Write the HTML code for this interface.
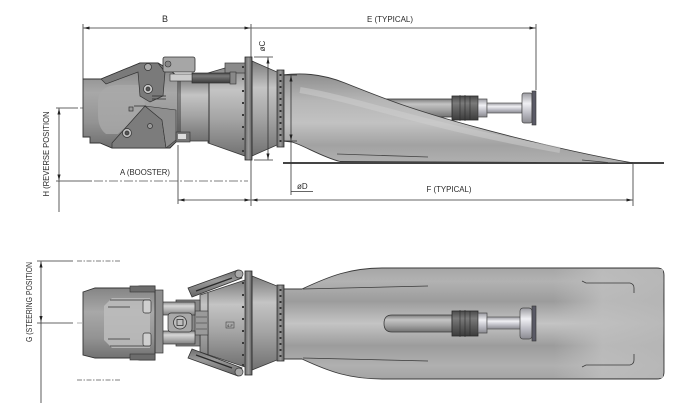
<!DOCTYPE html>
<html><head><meta charset="utf-8"><style>
html,body{margin:0;padding:0;background:#fff;}
svg{display:block;}
text{font-family:"Liberation Sans",sans-serif;fill:#2a2a2a;}
</style></head><body>
<svg width="684" height="418" viewBox="0 0 684 418" xmlns="http://www.w3.org/2000/svg">
<defs>
<marker id="ar" viewBox="0 0 10 6" refX="10" refY="3" markerWidth="6" markerHeight="3.6" orient="auto-start-reverse" markerUnits="userSpaceOnUse"><path d="M0,0.4 L10,3 L0,5.6 z" fill="#222"/></marker>
<linearGradient id="cyl" x1="0" y1="0" x2="0" y2="1">
 <stop offset="0" stop-color="#7c7c7c"/><stop offset="0.28" stop-color="#c4c4c4"/><stop offset="0.6" stop-color="#a4a4a4"/><stop offset="1" stop-color="#727272"/>
</linearGradient>
<linearGradient id="cylL" x1="0" y1="0" x2="0" y2="1">
 <stop offset="0" stop-color="#8a8a8a"/><stop offset="0.3" stop-color="#d6d6d6"/><stop offset="0.6" stop-color="#b4b4b4"/><stop offset="1" stop-color="#808080"/>
</linearGradient>
<linearGradient id="armG" x1="0" y1="0" x2="0" y2="1">
 <stop offset="0" stop-color="#6e6e6e"/><stop offset="0.4" stop-color="#9a9a9a"/><stop offset="1" stop-color="#666"/>
</linearGradient>
<linearGradient id="shaft" x1="0" y1="0" x2="0" y2="1">
 <stop offset="0" stop-color="#9a9aa0"/><stop offset="0.35" stop-color="#f0f0f4"/><stop offset="0.7" stop-color="#b8b8c0"/><stop offset="1" stop-color="#8a8a90"/>
</linearGradient>
<linearGradient id="dark" x1="0" y1="0" x2="0" y2="1">
 <stop offset="0" stop-color="#4a4a4a"/><stop offset="0.3" stop-color="#7a7a7a"/><stop offset="0.6" stop-color="#5e5e5e"/><stop offset="1" stop-color="#3c3c3c"/>
</linearGradient>
<linearGradient id="flangeG" x1="0" y1="0" x2="1" y2="0">
 <stop offset="0" stop-color="#6a6a6a"/><stop offset="0.5" stop-color="#9c9c9c"/><stop offset="1" stop-color="#5a5a5a"/>
</linearGradient>
<linearGradient id="hullT" x1="0" y1="0" x2="0" y2="1">
 <stop offset="0" stop-color="#8e8e8e"/><stop offset="0.3" stop-color="#b6b6b6"/><stop offset="0.55" stop-color="#c2c2c2"/><stop offset="0.8" stop-color="#a2a2a2"/><stop offset="1" stop-color="#b0b0b0"/>
</linearGradient>
<linearGradient id="plate" x1="0" y1="0" x2="0" y2="1">
 <stop offset="0" stop-color="#a6a6a6"/><stop offset="0.12" stop-color="#b2b2b2"/><stop offset="0.3" stop-color="#9c9c9c"/><stop offset="0.5" stop-color="#c4c4c4"/><stop offset="0.7" stop-color="#9c9c9c"/><stop offset="0.88" stop-color="#b0b0b0"/><stop offset="1" stop-color="#a4a4a4"/>
</linearGradient>
<linearGradient id="plateR" x1="0" y1="0" x2="1" y2="0">
 <stop offset="0" stop-color="#bbbbbb" stop-opacity="0"/><stop offset="0.55" stop-color="#bdbdbd" stop-opacity="0"/><stop offset="0.75" stop-color="#bebebe" stop-opacity="0.85"/><stop offset="1" stop-color="#b8b8b8" stop-opacity="0.9"/>
</linearGradient>
<linearGradient id="boost" x1="0" y1="0" x2="0" y2="1">
 <stop offset="0" stop-color="#828282"/><stop offset="0.35" stop-color="#a8a8a8"/><stop offset="0.7" stop-color="#939393"/><stop offset="1" stop-color="#6e6e6e"/>
</linearGradient>
</defs>

<!-- ================= TOP VIEW ================= -->
<g stroke="#333" stroke-width="0.8" fill="none">
 <line x1="83" y1="24" x2="83" y2="79"/>
 <line x1="251" y1="24" x2="251" y2="206"/>
 <line x1="536" y1="24" x2="536" y2="90"/>
 <line x1="83.5" y1="28" x2="250.5" y2="28" marker-start="url(#ar)" marker-end="url(#ar)"/>
 <line x1="251.5" y1="28" x2="535.5" y2="28" marker-end="url(#ar)"/>
 <line x1="178" y1="145" x2="178" y2="204"/>
 <line x1="633" y1="163" x2="633" y2="206"/>
 <line x1="178.5" y1="200" x2="250.5" y2="200" marker-start="url(#ar)" marker-end="url(#ar)"/>
 <line x1="251.5" y1="200" x2="632.5" y2="200" marker-start="url(#ar)" marker-end="url(#ar)"/>
 <line x1="59" y1="108.5" x2="59" y2="180.5" marker-start="url(#ar)" marker-end="url(#ar)"/>
 <line x1="59" y1="181" x2="59" y2="212"/>
 <line x1="56" y1="108" x2="78" y2="108"/>
 <line x1="56" y1="181" x2="92" y2="181"/>
 <line x1="80" y1="108" x2="302" y2="108" stroke-dasharray="9,2,2,2" stroke="#555" stroke-width="0.7"/>
 <line x1="94" y1="181" x2="248" y2="181" stroke-dasharray="9,2,2,2" stroke="#555" stroke-width="0.7"/>
</g>

<rect x="383" y="99" width="70" height="18" fill="url(#cyl)" stroke="#3a3a3a" stroke-width="0.8"/>
<rect x="452" y="96" width="26" height="24" fill="url(#dark)" stroke="#2a2a2a" stroke-width="0.8"/>
<g stroke="#2a2a2a" stroke-width="0.6"><line x1="460" y1="95" x2="460" y2="121"/><line x1="465" y1="95" x2="465" y2="121"/><line x1="470" y1="96" x2="470" y2="120"/></g>
<rect x="478" y="99" width="9" height="18" fill="url(#shaft)" stroke="#444" stroke-width="0.7"/>
<rect x="487" y="103" width="35" height="10" fill="url(#shaft)" stroke="#555" stroke-width="0.7"/>
<rect x="522" y="93" width="10" height="30" rx="2" fill="url(#shaft)" stroke="#444" stroke-width="0.7"/>
<rect x="532" y="91" width="4" height="34" fill="#5a5a66" stroke="#333" stroke-width="0.6"/>

<line x1="283" y1="163" x2="664" y2="163" stroke="#444" stroke-width="2"/>

<path d="M282,75 C300,73 320,73 345,83 C365,91 380,97 400,104 C460,125 560,150 633,163 L340,161.5 C322,157 305,146 292,142 L282,141 Z" fill="url(#hullT)" stroke="#3a3a3a" stroke-width="0.9"/>
<path d="M337,154 C370,155 400,156 428,157" stroke="#444" stroke-width="0.8" fill="none"/>
<path d="M582,160 L608,162.5" stroke="#444" stroke-width="0.8" fill="none"/>
<path d="M300,90 C360,100 420,125 560,150" stroke="#d0d0d0" stroke-width="6" fill="none" opacity="0.5"/>

<rect x="277" y="70" width="7" height="77" fill="url(#flangeG)" stroke="#2e2e2e" stroke-width="0.8"/>
<g fill="#333">
 <rect x="279.5" y="74" width="2" height="2"/><rect x="279.5" y="80" width="2" height="2"/><rect x="279.5" y="86" width="2" height="2"/><rect x="279.5" y="92" width="2" height="2"/><rect x="279.5" y="98" width="2" height="2"/><rect x="279.5" y="104" width="2" height="2"/><rect x="279.5" y="110" width="2" height="2"/><rect x="279.5" y="116" width="2" height="2"/><rect x="279.5" y="122" width="2" height="2"/><rect x="279.5" y="128" width="2" height="2"/><rect x="279.5" y="134" width="2" height="2"/><rect x="279.5" y="140" width="2" height="2"/>
</g>
<path d="M252,61 L277,72 L277,145 L252,156 Z" fill="url(#cyl)" stroke="#3a3a3a" stroke-width="0.8"/>
<g stroke="#333" stroke-width="0.8" fill="none">
 <line x1="254" y1="57" x2="273" y2="57"/>
 <line x1="254" y1="160" x2="273" y2="160"/>
 <line x1="268" y1="57.5" x2="268" y2="159.5" marker-start="url(#ar)" marker-end="url(#ar)"/>
 <line x1="284" y1="75" x2="297" y2="75"/>
 <line x1="284" y1="141" x2="297" y2="141"/>
 <line x1="291" y1="75.5" x2="291" y2="140.5" marker-start="url(#ar)" marker-end="url(#ar)"/>
 <line x1="291" y1="141" x2="291" y2="195"/>
 <line x1="291" y1="191.5" x2="313" y2="191.5"/>
</g>
<rect x="245" y="57" width="7" height="103" fill="url(#flangeG)" stroke="#2a2a2a" stroke-width="0.8"/>

<path d="M208,73 L225,68 L245,64 L245,156 L208,143 Z" fill="url(#cyl)" stroke="#3a3a3a" stroke-width="0.8"/>
<rect x="225" y="63" width="20" height="10" fill="#8a8a8a" stroke="#3a3a3a" stroke-width="0.7"/>
<g fill="#3a3a3a">
 <rect x="242" y="66" width="2" height="2"/><rect x="242" y="78" width="2" height="2"/><rect x="242" y="90" width="2" height="2"/><rect x="242" y="102" width="2" height="2"/><rect x="242" y="114" width="2" height="2"/><rect x="242" y="126" width="2" height="2"/><rect x="242" y="138" width="2" height="2"/><rect x="242" y="150" width="2" height="2"/>
</g>
<rect x="175" y="77" width="34" height="64" fill="url(#cyl)" stroke="#3a3a3a" stroke-width="0.8"/>
<line x1="180" y1="77" x2="180" y2="141" stroke="#333" stroke-width="0.9"/>
<line x1="209" y1="73" x2="209" y2="143" stroke="#333" stroke-width="1"/>

<path d="M83,79 L101,79 L140,63 L158,63 L170,70 L178,77 L178,140 L170,148 L112,148 L100,143 L90,143 L90,137 L83,137 Z" fill="url(#boost)" stroke="#333" stroke-width="0.9"/>
<path d="M98,100 Q100,86 116,85 L140,85 L146,108 L118,134 L106,134 Q98,128 98,115 Z" fill="#a9a9a9" opacity="0.8"/>
<path d="M101,79 L140,63 L158,63 L165,72 L163,96 L150,102 L140,96 L138,72 L106,84 Z" fill="#7a7a7a" stroke="#333" stroke-width="0.7"/>
<path d="M112,143 L145,106 L162,120 L166,148 L112,148 Z" fill="#7c7c7c" stroke="#333" stroke-width="0.7"/>
<path d="M145,106 L176,110 L176,140 L166,148 L162,120 Z" fill="#8e8e8e" stroke="#333" stroke-width="0.6"/>
<g stroke="#333" stroke-width="0.7">
 <circle cx="148" cy="89" r="4.5" fill="#c8c8c8"/><circle cx="148" cy="89" r="2" fill="#555"/>
 <circle cx="127" cy="133" r="4.5" fill="#bdbdbd"/><circle cx="127" cy="133" r="2" fill="#555"/>
 <circle cx="148" cy="67" r="3.5" fill="#aaa"/>
 <circle cx="150" cy="126" r="2.5" fill="#999"/>
 <rect x="129" y="107" width="4" height="4" fill="#999"/>
</g>
<g stroke="#333" stroke-width="0.8"><line x1="152" y1="96" x2="166" y2="96"/><line x1="152" y1="99" x2="166" y2="99"/><line x1="134" y1="106" x2="146" y2="106"/></g>
<rect x="163" y="57" width="32" height="15" rx="2" fill="#a6a6a6" stroke="#333" stroke-width="0.8"/>
<circle cx="168" cy="64" r="3" fill="#888" stroke="#333" stroke-width="0.6"/>
<rect x="192" y="73" width="42" height="10" fill="url(#dark)" stroke="#2e2e2e" stroke-width="0.7"/>
<rect x="170" y="74" width="22" height="7" fill="#ccc" stroke="#333" stroke-width="0.6"/>
<rect x="230" y="72" width="6" height="12" fill="#888" stroke="#333" stroke-width="0.6"/>
<rect x="176" y="132" width="14" height="10" fill="#777" stroke="#333" stroke-width="0.6"/>
<rect x="178" y="134" width="8" height="5" fill="#ddd"/>

<text x="165" y="22" font-size="9" text-anchor="middle">B</text>
<text x="390" y="22" font-size="8.5" text-anchor="middle" textLength="46" lengthAdjust="spacingAndGlyphs">E (TYPICAL)</text>
<text x="145" y="175" font-size="8.5" text-anchor="middle" textLength="50" lengthAdjust="spacingAndGlyphs">A (BOOSTER)</text>
<text x="449" y="192" font-size="8.5" text-anchor="middle" textLength="45" lengthAdjust="spacingAndGlyphs">F (TYPICAL)</text>
<text x="297" y="189" font-size="8">øD</text>
<text transform="translate(265,46) rotate(-90)" font-size="8" text-anchor="middle">øC</text>
<text transform="translate(49,154) rotate(-90)" font-size="8.5" text-anchor="middle" textLength="85" lengthAdjust="spacingAndGlyphs">H (REVERSE POSITION</text>

<!-- ================= BOTTOM VIEW ================= -->
<g stroke="#333" stroke-width="0.8" fill="none">
 <line x1="41" y1="261.5" x2="41" y2="322" marker-start="url(#ar)" marker-end="url(#ar)"/>
 <line x1="41" y1="322" x2="41" y2="403"/>
 <line x1="37" y1="261" x2="73" y2="261"/>
 <line x1="37" y1="323" x2="73" y2="323"/>
 <line x1="77" y1="261" x2="120" y2="261" stroke-dasharray="5,1.5,1.5,1.5" stroke="#555"/>
 <line x1="77" y1="323" x2="128" y2="323" stroke-dasharray="5,1.5,1.5,1.5" stroke="#666" stroke-width="0.6"/>
 <line x1="77" y1="380" x2="120" y2="380" stroke-dasharray="5,1.5,1.5,1.5" stroke="#555"/>
</g>
<text transform="translate(32,302) rotate(-90)" font-size="8.5" text-anchor="middle" textLength="80" lengthAdjust="spacingAndGlyphs">G (STEERING POSITION</text>

<path d="M282,289 L302,289 C330,276 350,268 383,268 L657,268 Q664,268 664,275 L664,372 Q664,379 657,379 L383,379 C350,379 330,372 302,359 L282,359 Z" fill="url(#plate)" stroke="#3a3a3a" stroke-width="0.9"/>
<path d="M420,269 L663,269 L663,378 L420,378 Z" fill="url(#plateR)"/>
<g stroke="#3a3a3a" stroke-width="0.8" fill="none">
 <path d="M303,289 L428,286"/>
 <path d="M303,358 L428,361"/>
 <path d="M582,281 L586,283 L630,283 Q634,284 634,288 L634,293"/>
 <path d="M582,367 L586,365 L630,365 Q634,364 634,360 L634,354"/>
</g>
<path d="M452,315 L392,315 Q384,315 384,323.5 Q384,332 392,332 L452,332 Z" fill="url(#cyl)" stroke="#3a3a3a" stroke-width="0.8"/>
<rect x="452" y="311" width="26" height="25" fill="url(#dark)" stroke="#2a2a2a" stroke-width="0.8"/>
<g stroke="#2a2a2a" stroke-width="0.6"><line x1="460" y1="310" x2="460" y2="337"/><line x1="465" y1="310" x2="465" y2="337"/><line x1="470" y1="311" x2="470" y2="336"/></g>
<rect x="478" y="313" width="9" height="20" fill="url(#shaft)" stroke="#444" stroke-width="0.7"/>
<rect x="487" y="317" width="34" height="12" fill="url(#shaft)" stroke="#555" stroke-width="0.7"/>
<rect x="520" y="308" width="12" height="31" rx="3" fill="url(#shaft)" stroke="#444" stroke-width="0.7"/>
<rect x="532" y="306" width="4" height="35" fill="#5a5a66" stroke="#333" stroke-width="0.6"/>

<rect x="277" y="285" width="7" height="76" fill="url(#flangeG)" stroke="#2e2e2e" stroke-width="0.8"/>
<g fill="#333">
 <rect x="279.5" y="289" width="2" height="2"/><rect x="279.5" y="295" width="2" height="2"/><rect x="279.5" y="301" width="2" height="2"/><rect x="279.5" y="307" width="2" height="2"/><rect x="279.5" y="313" width="2" height="2"/><rect x="279.5" y="319" width="2" height="2"/><rect x="279.5" y="325" width="2" height="2"/><rect x="279.5" y="331" width="2" height="2"/><rect x="279.5" y="337" width="2" height="2"/><rect x="279.5" y="343" width="2" height="2"/><rect x="279.5" y="349" width="2" height="2"/><rect x="279.5" y="355" width="2" height="2"/>
</g>
<path d="M252,276 L277,286 L277,360 L252,370 Z" fill="url(#cyl)" stroke="#3a3a3a" stroke-width="0.8"/>
<rect x="245" y="271" width="7" height="104" fill="url(#flangeG)" stroke="#2a2a2a" stroke-width="0.8"/>

<path d="M200,295 L245,280 L245,367 L200,352 Z" fill="url(#cyl)" stroke="#3a3a3a" stroke-width="0.8"/>
<line x1="208" y1="293" x2="208" y2="355" stroke="#333" stroke-width="0.9"/>
<g fill="#3a3a3a">
 <rect x="242" y="282" width="2" height="2"/><rect x="242" y="294" width="2" height="2"/><rect x="242" y="306" width="2" height="2"/><rect x="242" y="318" width="2" height="2"/><rect x="242" y="330" width="2" height="2"/><rect x="242" y="342" width="2" height="2"/><rect x="242" y="354" width="2" height="2"/><rect x="242" y="364" width="2" height="2"/>
</g>
<rect x="226" y="322" width="8" height="6" fill="#aaa" stroke="#333" stroke-width="0.5"/>
<text x="230" y="327" font-size="4" text-anchor="middle">4-F</text>
<path d="M188,288 L238,270 L242,278 L192,297 Z" fill="url(#armG)" stroke="#333" stroke-width="0.8"/>
<path d="M188,358 L238,376 L242,368 L192,349 Z" fill="url(#armG)" stroke="#333" stroke-width="0.8"/>
<line x1="196" y1="291" x2="232" y2="278" stroke="#2a2a2a" stroke-width="1.4"/>
<line x1="196" y1="355" x2="232" y2="368" stroke="#2a2a2a" stroke-width="1.4"/>
<circle cx="239" cy="274" r="4" fill="#a8a8a8" stroke="#333" stroke-width="0.7"/>
<circle cx="239" cy="372" r="4" fill="#a8a8a8" stroke="#333" stroke-width="0.7"/>
<rect x="176" y="300" width="24" height="46" fill="#888" stroke="#333" stroke-width="0.7"/>
<rect x="195" y="311" width="13" height="24" fill="#9a9a9a" stroke="#333" stroke-width="0.6"/>
<g stroke="#444" stroke-width="0.6"><line x1="196" y1="317" x2="207" y2="317"/><line x1="196" y1="323" x2="207" y2="323"/><line x1="196" y1="329" x2="207" y2="329"/></g>
<rect x="160" y="302" width="35" height="13" fill="url(#cylL)" stroke="#333" stroke-width="0.7"/>
<rect x="160" y="331" width="35" height="13" fill="url(#cylL)" stroke="#333" stroke-width="0.7"/>
<rect x="168" y="313" width="24" height="19" rx="3" fill="#a8a8a8" stroke="#333" stroke-width="0.7"/>
<circle cx="180" cy="322.5" r="6.5" fill="#bdbdbd" stroke="#333" stroke-width="0.8"/>
<rect x="177" y="319.5" width="6" height="6" fill="none" stroke="#333" stroke-width="0.8"/>
<rect x="155" y="290" width="8" height="63" fill="#8e8e8e" stroke="#333" stroke-width="0.7"/>
<path d="M83,292 L95,288 L130,288 L140,286 L155,286 L155,360 L140,360 L130,358 L95,358 L83,355 Z" fill="url(#boost)" stroke="#333" stroke-width="0.9"/>
<path d="M104,306 L112,298 L150,298 L150,348 L112,348 L104,340 Z" fill="#bdbdbd" opacity="0.85"/>
<g stroke="#333" stroke-width="0.8"><line x1="110" y1="300" x2="150" y2="300"/><line x1="110" y1="346" x2="150" y2="346"/><line x1="108" y1="307" x2="130" y2="307"/><line x1="108" y1="339" x2="130" y2="339"/></g>
<rect x="130" y="286" width="25" height="6" fill="#6c6c6c" stroke="#333" stroke-width="0.6"/>
<rect x="130" y="354" width="25" height="6" fill="#6c6c6c" stroke="#333" stroke-width="0.6"/>
<rect x="143" y="300" width="8" height="13" rx="2" fill="#cfcfcf" stroke="#333" stroke-width="0.7"/>
<rect x="143" y="333" width="8" height="13" rx="2" fill="#cfcfcf" stroke="#333" stroke-width="0.7"/>
</svg>
</body></html>
